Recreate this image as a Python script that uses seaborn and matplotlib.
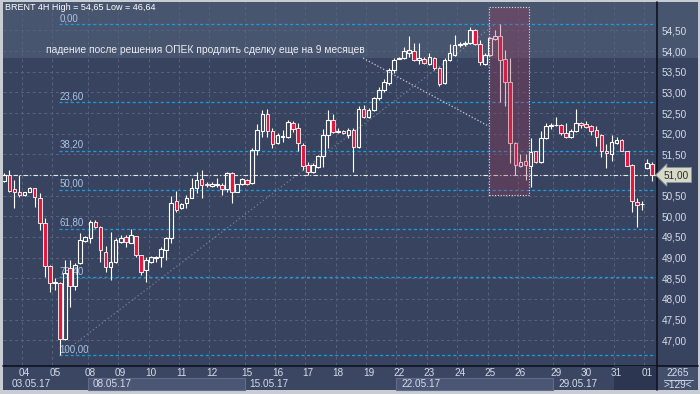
import numpy as np
import matplotlib
matplotlib.use("Agg")
import matplotlib.pyplot as plt
import matplotlib.transforms as mtransforms
from matplotlib.patches import Rectangle
import seaborn as sns

# ---------------- data (BRENT 4H candles) ----------------
opens = [50.85,51.00,50.66,50.58,50.52,50.60,50.68,50.45,49.85,48.80,
         48.38,48.39,47.02,48.74,48.31,48.86,49.41,49.47,49.87,49.75,
         49.14,48.78,48.90,49.39,49.49,49.36,49.52,49.06,48.70,48.90,
         48.99,49.01,49.18,49.47,50.36,50.19,50.32,50.45,50.68,50.90,
         50.78,50.74,50.77,50.77,50.66,51.04,50.60,50.78,50.87,50.80,
         51.61,52.07,52.49,52.07,51.77,51.93,51.91,52.25,52.13,51.73,
         51.24,51.08,51.20,51.45,51.97,52.33,52.04,52.07,51.97,52.09,
         51.67,52.61,52.41,52.58,52.86,53.06,53.22,53.54,53.81,53.83,
         53.96,54.00,53.79,53.80,53.70,53.83,53.58,53.22,53.79,53.91,
         54.16,54.17,54.19,54.51,54.17,53.70,53.91,54.29,54.37,53.80,
         53.26,51.78,51.23,51.33,51.23,51.57,51.32,51.89,52.19,52.20,
         52.20,52.01,51.91,52.07,52.25,52.23,52.19,52.09,51.97,51.57,
         51.51,51.78,51.85,51.57,51.25,50.34,50.29,51.18,51.27]
highs = [51.05,51.12,50.88,51.00,50.60,50.70,50.69,50.56,49.95,48.81,
         48.50,48.40,48.94,48.94,48.86,49.59,49.52,49.91,49.90,49.76,
         49.27,49.63,49.47,49.55,49.55,49.69,49.53,49.07,49.02,49.03,
         49.04,49.25,49.51,50.49,50.61,50.33,50.52,50.92,51.07,51.12,
         50.82,50.82,50.92,50.80,51.07,51.07,50.79,50.92,50.91,51.65,
         52.23,52.58,52.60,52.13,52.01,52.09,52.33,52.31,52.25,51.77,
         51.32,51.28,51.48,52.12,52.58,52.49,52.13,52.10,52.13,52.13,
         52.66,52.70,52.62,52.90,53.14,53.32,53.60,53.83,53.86,54.11,
         54.36,54.20,54.19,53.85,53.95,53.85,53.62,53.83,54.17,54.39,
         54.22,54.24,54.59,54.53,54.27,53.95,54.35,54.51,54.65,54.03,
         53.83,51.79,51.51,51.51,51.89,51.58,52.07,52.25,52.25,52.41,
         52.24,52.25,52.11,52.59,52.29,52.32,52.21,52.19,51.99,51.75,
         51.97,51.91,51.87,51.59,51.27,50.44,50.36,51.40,51.32]
lows = [50.82,50.60,50.19,50.48,50.50,50.58,50.23,49.67,48.54,48.16,
        48.22,46.64,47.00,47.81,48.22,48.84,49.38,49.35,49.72,48.90,
        48.66,48.46,48.86,49.35,49.25,49.35,49.02,48.58,48.42,48.88,
        48.90,48.78,48.94,49.35,50.11,50.17,50.19,50.44,50.56,50.44,
        50.72,50.70,50.72,50.52,50.60,50.32,50.59,50.76,50.77,50.79,
        51.49,51.93,51.93,51.65,51.74,51.81,51.89,52.05,51.57,51.12,
        51.00,51.06,51.18,51.20,51.65,52.01,52.01,51.99,51.89,51.08,
        51.65,52.39,52.39,52.54,52.82,53.02,53.18,53.46,53.80,53.81,
        53.85,53.75,53.70,53.69,53.66,53.54,53.15,53.20,53.77,53.88,
        54.10,54.12,54.17,54.15,53.66,53.66,53.88,54.27,52.78,52.67,
        51.28,51.00,51.20,50.88,50.72,51.28,51.30,51.87,52.11,52.18,
        51.97,51.89,51.89,52.05,52.13,52.15,51.97,51.71,51.43,51.16,
        51.35,51.75,51.57,51.21,50.11,49.75,50.15,51.15,50.86]
closes = [51.00,50.62,50.58,50.52,50.58,50.68,50.46,49.85,48.80,48.38,
          48.40,47.02,48.62,48.32,48.82,49.43,49.49,49.87,49.75,49.19,
          48.78,48.90,49.43,49.47,49.37,49.55,49.06,48.66,48.94,49.01,
          49.00,49.20,49.47,50.33,50.15,50.31,50.44,50.68,50.88,50.77,
          50.77,50.79,50.78,50.66,51.04,50.58,50.78,50.90,50.79,51.61,
          52.09,52.48,52.07,51.74,51.97,51.94,52.28,52.11,51.77,51.23,
          51.08,51.24,51.45,51.97,52.33,52.05,52.05,52.01,52.09,51.67,
          52.61,52.41,52.58,52.86,53.06,53.26,53.54,53.79,53.83,54.01,
          54.03,53.79,53.83,53.72,53.85,53.58,53.20,53.79,53.95,54.15,
          54.18,54.19,54.51,54.17,53.74,53.91,54.31,54.37,53.79,53.26,
          51.78,51.24,51.31,51.24,51.56,51.32,51.89,52.19,52.20,52.22,
          52.01,51.93,52.07,52.25,52.20,52.17,52.07,51.93,51.59,51.53,
          51.79,51.86,51.59,51.23,50.36,50.27,50.30,51.28,51.00]

day_labels = ['04','05','08','09','10','11','12','15','16','17','18','19',
              '22','23','24','25','26','29','30','31','01']
day_start = [4,10,17,23,29,35,41,48,54,60,66,72,78,84,90,96,102,109,115,121,127]
week_labels = ['03.05.17','08.05.17','15.05.17','22.05.17','29.05.17']
week_start = [0,17,48,78,109]

fib_high, fib_low = 54.65, 46.64
fib_high_bar, fib_low_bar = 97, 11
fib_levels = [0.0, 23.6, 38.2, 50.0, 61.8, 76.4, 100.0]
last_price = 51.00
price_ticks = [47.0,47.5,48.0,48.5,49.0,49.5,50.0,50.5,51.0,51.5,52.0,52.5,53.0,53.5,54.0,54.5]
title = "BRENT 4H High = 54,65 Low = 46,64"
note = "падение после решения ОПЕК продлить сделку еще на 9 месяцев"
bars_total = "2265"
bars_visible = ">129<"

# ---------------- style ----------------
sns.set_theme(style="dark")
plt.rcParams['font.family'] = ['Liberation Sans', 'DejaVu Sans']

BG = '#38445f'
BG_TOP = '#48556f'
TXT = '#d4dcea'
RED = '#e4173f'
FIB = '#1d9be0'

W, H = 700, 394
fig = plt.figure(figsize=(7.0, 3.94), dpi=100, facecolor='#c8ccd3')

# background axes in pixel coordinates
axb = fig.add_axes([0, 0, 1, 1], zorder=-10)
axb.set_xlim(0, W); axb.set_ylim(H, 0); axb.axis('off')
axb.add_patch(Rectangle((3, 2), 695, 388, fc=BG, ec='none'))
axb.add_patch(Rectangle((3, 2), 695, 56, fc=BG_TOP, ec='none'))
axb.add_patch(Rectangle((3, 366), 695, 24, fc='#3b4762', ec='none'))
axb.add_patch(Rectangle((657, 366), 41, 24, fc='#434f6b', ec='none'))
axb.plot([3, 698], [365.5, 365.5], color='#0e1220', lw=1.2)
axb.plot([656.5, 656.5], [2, 390], color='#0e1220', lw=1.2)
axb.text(678, 372.5, bars_total, color=TXT, fontsize=7.2, ha='center', va='center')
axb.plot([664, 693], [379.5, 379.5], color='#c0c8d8', lw=0.7)
axb.text(678, 385.5, bars_visible, color=TXT, fontsize=7.2, ha='center', va='center')

# main axes
ax = fig.add_axes([3 / W, 1 - 365 / H, 653 / W, 363 / H], zorder=1)
ax.set_facecolor('none')
ax.set_axisbelow(False)
ax.set_xlim(-0.26, 128.79)
ax.set_ylim(46.40, 55.19)
for s in ax.spines.values():
    s.set_visible(False)

n = len(opens)
idx = np.arange(n)
o = np.array(opens); c = np.array(closes); hi = np.array(highs); lo = np.array(lows)
top = np.maximum(o, c); bot = np.minimum(o, c)
bear = c < o

# ticks and grid
ax.set_yticks(price_ticks)
ax.set_yticklabels(['' if abs(p - last_price) < 1e-9 else f"{p:.2f}".replace('.', ',') for p in price_ticks])
ax.yaxis.tick_right()
ax.tick_params(axis='y', length=0, pad=4, labelsize=7.2, labelcolor=TXT)
ax.set_xticks(day_start)
ax.set_xticklabels(day_labels)
ax.tick_params(axis='x', which='both', length=0, pad=2.5, labelsize=7.2, labelcolor=TXT)
ax.grid(False)
for p in price_ticks:
    ax.axhline(p, color='#56637e', lw=0.7, ls=(0, (3, 3)), zorder=0.5)
for d in day_start:
    ax.axvline(d - 0.5, color='#56637e', lw=0.7, ls=(0, (3, 3)), zorder=0.5)

# fibonacci
rng = fib_high - fib_low
for lv in fib_levels:
    p = fib_high - lv / 100 * rng
    ax.hlines(p, fib_low_bar - 0.2, 128.79, colors=FIB, lw=0.9, ls=(0, (2.5, 2)), zorder=1)
    ax.annotate(f"{lv:.2f}".replace('.', ','), xy=(fib_low_bar - 0.1, p), xytext=(0, 0.6),
                textcoords='offset points', color='#a9c3e4', fontsize=7.0, ha='left', va='bottom', zorder=1)
ax.plot([fib_low_bar, fib_high_bar], [fib_low, fib_high], color='#aab0bc', lw=0.9,
        ls=(0, (1, 2)), zorder=1, alpha=0.55)

# current price line
ax.axhline(last_price, color='#e8e8e8', lw=0.8, ls=(0, (4, 2, 1, 2)), zorder=1.2)

# candles
wick_kw = dict(color='white', lw=0.8, zorder=2)
ax.vlines(idx, top, hi, **wick_kw)
ax.vlines(idx, lo, bot, **wick_kw)
body_h = np.maximum(top - bot, 0.015)
ax.bar(idx[bear], body_h[bear], bottom=bot[bear], width=0.72, color=RED,
       edgecolor='white', linewidth=0.6, zorder=3)
ax.bar(idx[~bear], body_h[~bear], bottom=bot[~bear], width=0.72, facecolor='none',
       edgecolor='white', linewidth=0.8, zorder=3)

# highlighted zone
ax.add_patch(Rectangle((95.85, 50.52), 7.9, 4.54, fc=(0.62, 0.22, 0.35, 0.32),
                       ec='#e0e0e0', lw=0.8, ls=(0, (1, 1.5)), zorder=4))

# annotation
ax.text(8.2, 54.03, note, color='#e8ecf2', fontsize=7.4, ha='left', va='center', zorder=5)
ax.plot([70.9, 95.6], [53.83, 52.19], color='#c8ccd4', lw=0.9, ls=(0, (1, 1.6)), zorder=5)

# title
ax.text(0.003, 0.997, title, transform=ax.transAxes, color='white', fontsize=6.5,
        ha='left', va='top', zorder=5)

# last price tag
tr_y = mtransforms.blended_transform_factory(ax.transAxes, ax.transData)
ax.text(1.012, last_price, f"{last_price:.2f}".replace('.', ','), transform=tr_y, color='#2a2a2a',
        fontsize=7.2, ha='left', va='center', clip_on=False, zorder=6,
        bbox=dict(boxstyle='larrow,pad=0.25', fc='#d7dac8', ec='#8c9096', lw=0.6))

# week row
tr_x = mtransforms.blended_transform_factory(ax.transData, ax.transAxes)
def ay(py):
    return (365 - py) / 363
for k, (lab, ws) in enumerate(zip(week_labels, week_start)):
    x0 = max(ws - 0.5, -0.26)
    if k in (1, 3):
        x1 = week_start[k + 1] - 0.5
        ax.add_patch(Rectangle((x0, ay(390)), x1 - x0, ay(378) - ay(390), transform=tr_x,
                               fc='#4a5674', ec='#606c88', lw=0.8, clip_on=False, zorder=0.2))
    ax.annotate(lab, xy=(x0, ay(384)), xycoords=tr_x, xytext=(3.5 if k else 6, 0),
                textcoords='offset points', color=TXT, fontsize=7.2, ha='left', va='center',
                annotation_clip=False)
x31 = day_start[-2] - 0.5
ax.add_patch(Rectangle((x31, ay(390)), 128.79 - x31, ay(366) - ay(390), transform=tr_x,
                       fc='#2c3651', ec='none', clip_on=False, zorder=0.1))

fig.savefig('out.png', dpi=100, facecolor=fig.get_facecolor())
